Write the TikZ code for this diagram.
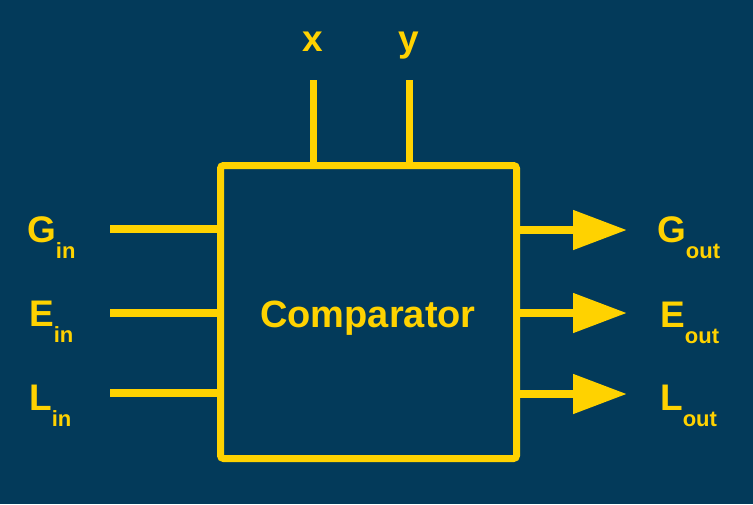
\documentclass[tikz,border=0pt]{standalone}
\usepackage{fontspec}
\setmainfont{Liberation Sans}
\usetikzlibrary{arrows.meta}
\definecolor{bgblue}{HTML}{033A5A}
\definecolor{ylw}{HTML}{FFD200}
\tikzset{
  wire/.style={draw=ylw,line width=8pt},
  outwire/.style={wire,-{Triangle[length=54pt,width=38pt]}},
  biglabel/.style={text=ylw,font=\bfseries\fontsize{37}{37}\selectfont,inner sep=0pt},
}
\newcommand{\subl}[1]{\raisebox{-16pt}{\fontsize{22}{22}\selectfont #1}}
\begin{document}
\begin{tikzpicture}[x=1pt,y=-1pt]
\fill[bgblue] (0,0) rectangle (753,504);
\useasboundingbox (0,0) rectangle (753,504);
\node[draw=ylw,line width=7pt,rounded corners=3pt,minimum width=296pt,minimum height=293pt,inner sep=0pt] (box) at (368.5,312) {};
\node[text=ylw,font=\bfseries\fontsize{38}{38}\selectfont,inner sep=0pt,anchor=base] (comp) at (368,327) {Comparator};
% top inputs
\coordinate (xt) at (313,80);
\coordinate (yt) at (409,80);
\draw[wire,line width=7pt] (xt) -- (xt |- box.north);
\draw[wire,line width=7pt] (yt) -- (yt |- box.north);
\node[biglabel,anchor=base] (xl) at (313,51) {x};
\node[biglabel,anchor=base] (yl) at (409,51) {y};
% left inputs
\coordinate (gi) at (110,229);
\coordinate (ei) at (110,312.5);
\coordinate (li) at (110,393);
\draw[wire] (gi) -- (gi -| box.west);
\draw[wire] (ei) -- (ei -| box.west);
\draw[wire] (li) -- (li -| box.west);
\node[biglabel,anchor=base west] (gl) at (27,242) {G\subl{in}};
\node[biglabel,anchor=base west] (el) at (29,326) {E\subl{in}};
\node[biglabel,anchor=base west] (ll) at (29,410) {L\subl{in}};
% right outputs
\coordinate (go) at (627,230);
\coordinate (eo) at (627,313);
\coordinate (lo) at (627,394);
\draw[outwire] (go -| box.east) -- (go);
\draw[outwire] (eo -| box.east) -- (eo);
\draw[outwire] (lo -| box.east) -- (lo);
\node[biglabel,anchor=base west] (glo) at (657,242) {G\subl{out}};
\node[biglabel,anchor=base west] (elo) at (660,327) {E\subl{out}};
\node[biglabel,anchor=base west] (llo) at (660,410) {L\subl{out}};
\end{tikzpicture}
\end{document}
